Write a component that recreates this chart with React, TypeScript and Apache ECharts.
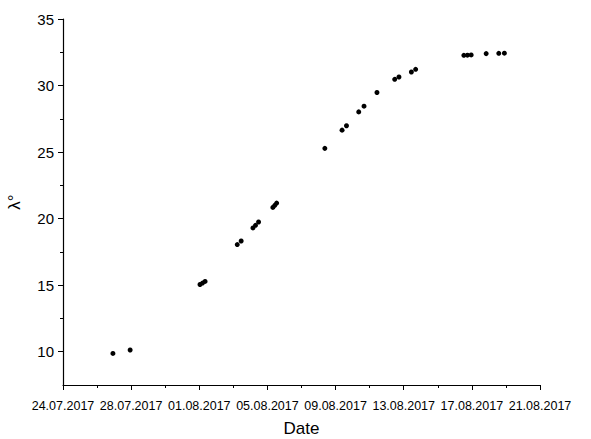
import React, { useEffect, useRef } from "react";
import * as echarts from "echarts";

const BASE_DATE = "2017-07-24T00:00:00Z";
const dates = [
  "2017-07-26T22:20:00Z",
  "2017-07-27T22:35:00Z",
  "2017-08-01T01:00:00Z",
  "2017-08-01T04:30:00Z",
  "2017-08-01T08:10:00Z",
  "2017-08-03T05:30:00Z",
  "2017-08-03T11:00:00Z",
  "2017-08-04T03:36:00Z",
  "2017-08-04T07:12:00Z",
  "2017-08-04T11:30:00Z",
  "2017-08-05T07:40:00Z",
  "2017-08-05T10:20:00Z",
  "2017-08-05T13:00:00Z",
  "2017-08-08T08:53:00Z",
  "2017-08-09T09:07:00Z",
  "2017-08-09T15:22:00Z",
  "2017-08-10T08:38:00Z",
  "2017-08-10T16:05:00Z",
  "2017-08-11T10:19:00Z",
  "2017-08-12T11:17:00Z",
  "2017-08-12T17:17:00Z",
  "2017-08-13T10:48:00Z",
  "2017-08-13T16:48:00Z",
  "2017-08-16T12:43:00Z",
  "2017-08-16T17:46:00Z",
  "2017-08-16T23:02:00Z",
  "2017-08-17T20:10:00Z",
  "2017-08-18T13:55:00Z",
  "2017-08-18T21:50:00Z",
];
const lambdaValues = [
  9.87, 10.13, 15.05, 15.16, 15.28, 18.05, 18.32, 19.3, 19.5, 19.75, 20.84,
  21.0, 21.17, 25.28, 26.65, 26.98, 28.02, 28.45, 29.48, 30.47, 30.64, 31.02,
  31.22, 32.27, 32.28, 32.3, 32.4, 32.42, 32.43,
];
const xTickLabels = [
  "24.07.2017",
  "28.07.2017",
  "01.08.2017",
  "05.08.2017",
  "09.08.2017",
  "13.08.2017",
  "17.08.2017",
  "21.08.2017",
];
const yMajorTicks = [10, 15, 20, 25, 30, 35];
const yMinorTicks = [12.5, 17.5, 22.5, 27.5, 32.5];

const DAY = 86400000;

export default function App() {
  const ref = useRef<HTMLDivElement>(null);
  useEffect(() => {
    document.body.style.margin = "0";
    if (!ref.current) return;
    const chart = echarts.init(ref.current, undefined, { renderer: "svg" });
    const base = Date.parse(BASE_DATE);
    const data = dates.map((d, i) => [
      (Date.parse(d) - base) / DAY,
      lambdaValues[i],
    ]);
    const font = "'Liberation Sans', Arial, sans-serif";
    chart.setOption({
      animation: false,
      backgroundColor: "#ffffff",
      grid: {
        left: 63,
        right: 51,
        top: 19,
        bottom: 54,
        containLabel: false,
        outerBoundsMode: "none",
      },
      xAxis: {
        type: "value",
        min: 0,
        max: 28,
        interval: 4,
        name: "Date",
        nameLocation: "middle",
        nameGap: 35,
        nameMoveOverlap: false,
        nameTextStyle: { color: "#000", fontSize: 17, fontFamily: font },
        axisLine: { lineStyle: { color: "#000", width: 1.2 } },
        axisTick: { show: true, length: 5, inside: false, lineStyle: { color: "#000" } },
        minorTick: { show: true, splitNumber: 2, length: 3, lineStyle: { color: "#000" } },
        splitLine: { show: false },
        axisLabel: {
          color: "#000",
          fontSize: 12.5,
          fontFamily: font,
          margin: 14,
          formatter: (v: number) => xTickLabels[Math.round(v / 4)] ?? "",
        },
      },
      yAxis: [
        {
          type: "value",
          min: 7.5,
          max: 35,
          name: "λ°",
          nameLocation: "middle",
          nameGap: 40,
          nameMoveOverlap: false,
          nameRotate: 90,
          nameTextStyle: { color: "#000", fontSize: 17, fontFamily: font },
          axisLine: { show: true, lineStyle: { color: "#000", width: 1.2 } },
          axisTick: {
            show: true,
            length: 5,
            customValues: yMajorTicks,
            lineStyle: { color: "#000" },
          },
          minorTick: { show: false },
          splitLine: { show: false },
          axisLabel: {
            color: "#000",
            fontSize: 15,
            fontFamily: font,
            margin: 9,
            customValues: yMajorTicks,
          },
        },
        {
          type: "value",
          min: 7.5,
          max: 35,
          position: "left",
          offset: 0,
          axisLine: { show: false },
          axisTick: {
            show: true,
            length: 3,
            customValues: yMinorTicks,
            lineStyle: { color: "#000" },
          },
          axisLabel: { show: false },
          splitLine: { show: false },
        },
      ],
      series: [
        {
          type: "scatter",
          data,
          symbol: "circle",
          symbolSize: 5,
          itemStyle: { color: "#000", opacity: 1 },
        },
      ],
    });
    return () => chart.dispose();
  }, []);
  return <div ref={ref} style={{ width: 591, height: 439 }} />;
}
